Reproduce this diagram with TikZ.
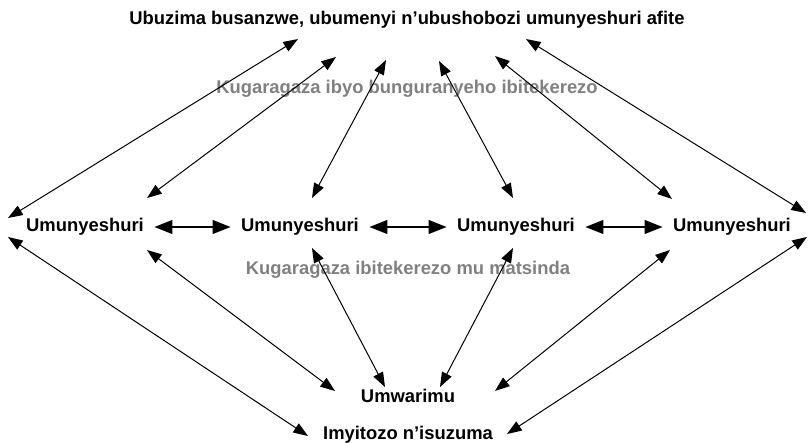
\documentclass[tikz,border=0pt]{standalone}
\usepackage{fontspec}
\setmainfont{Liberation Sans}
\usetikzlibrary{arrows.meta,calc}

\begin{document}
\begin{tikzpicture}[x=0.75pt,y=0.75pt,yscale=-1,xscale=1,
  lbl/.style={inner sep=0.75pt,font=\fontsize{13.8}{16}\selectfont\bfseries},
  note/.style={lbl,text=black!50},
  pupil/.style={lbl,inner sep=0pt,minimum width=103.5pt},
  link/.style={line width=0.75pt,{Triangle[length=11pt,width=8pt]}-{Triangle[length=11pt,width=8pt]}},
  peer/.style={line width=2pt,{Triangle[length=13.5pt,width=10pt]}-{Triangle[length=13.5pt,width=10pt]}}]
\useasboundingbox (0,0) rectangle (808,443);

% Text Node
\node[lbl] (title) at (407,20) {Ubuzima busanzwe, ubumenyi n’ubushobozi umunyeshuri afite};
% Text Node
\node[note] (share) at (407,89) {Kugaragaza ibyo bunguranyeho ibitekerezo};
% Text Node
\node[note] (groups) at (408,270) {Kugaragaza ibitekerezo mu matsinda};
% Text Node
\node[pupil] (u1) at (85,227) {Umunyeshuri};
\node[pupil] (u2) at (300,227) {Umunyeshuri};
\node[pupil] (u3) at (516,227) {Umunyeshuri};
\node[pupil] (u4) at (732,227) {Umunyeshuri};
% Text Node
\node[lbl] (teacher) at (408,396) {Umwarimu};
% Text Node
\node[lbl] (tests) at (408,435) {Imyitozo n’isuzuma};

%Straight Lines: between the pupils
\draw[peer] (u1) -- (u2);
\draw[peer] (u2) -- (u3);
\draw[peer] (u3) -- (u4);

%Straight Lines: up to the title
\draw[link] ($(u1)+(-77,-9)$) -- ($(title)+(-109,19)$);
\draw[link] ($(u1)+(62,-29)$) -- ($(title)+(-71,37)$);
\draw[link] ($(u2)+(12,-29)$) -- ($(title)+(-21,40)$);
\draw[link] ($(u3)+(-3,-29)$) -- ($(title)+(32,41)$);
\draw[link] ($(u4)+(-60,-28)$) -- ($(title)+(88,36)$);
\draw[link] ($(u4)+(74,-14)$) -- ($(title)+(119,19)$);

%Straight Lines: down to the teacher and the tests
\draw[link] ($(u1)+(-77,10)$) -- ($(tests)+(-100,1)$);
\draw[link] ($(u1)+(62,23)$) -- ($(teacher)+(-73,-5)$);
\draw[link] ($(u2)+(12,21)$) -- ($(teacher)+(-23,-9)$);
\draw[link] ($(u3)+(-3,21)$) -- ($(teacher)+(32,-9)$);
\draw[link] ($(u4)+(-62,23)$) -- ($(teacher)+(87,-5)$);
\draw[link] ($(u4)+(75,10)$) -- ($(tests)+(99,-1)$);

\end{tikzpicture}
\end{document}
